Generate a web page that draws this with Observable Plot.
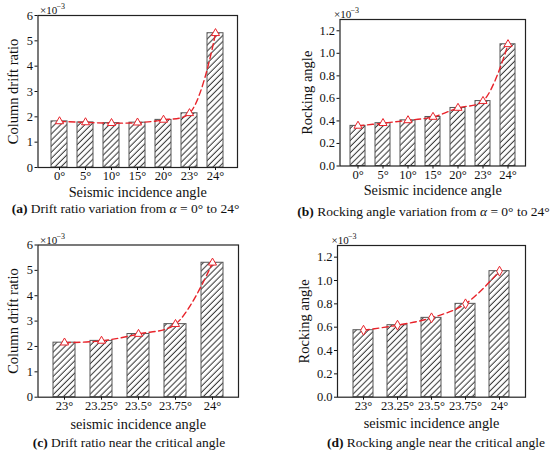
<!DOCTYPE html>
<html>
<head>
<meta charset="utf-8">
<script src="https://cdn.jsdelivr.net/npm/d3@7"></script>
<script src="https://cdn.jsdelivr.net/npm/@observablehq/plot@0.6"></script>
<style>
  html, body { margin: 0; padding: 0; background: #fff; }
  #root { position: relative; width: 550px; height: 452px; overflow: hidden; font-family: "Liberation Serif", "Times New Roman", serif; }
  .panel { position: absolute; width: 275px; height: 226px; }
  .cap { position: absolute; width: 320px; text-align: center; white-space: nowrap; font-size: 13.5px; line-height: 15px; color: #111; }
</style>
</head>
<body>
<div id="root"></div>
<script>
// ---- data ----
const anglesAB = ["0°", "5°", "10°", "15°", "20°", "23°", "24°"];
const driftAB = [1.82, 1.78, 1.75, 1.77, 1.88, 2.14, 5.30];
const rockAB = [0.356, 0.380, 0.405, 0.435, 0.515, 0.576, 1.08];
const anglesCD = ["23°", "23.25°", "23.5°", "23.75°", "24°"];
const driftCD = [2.15, 2.22, 2.49, 2.88, 5.30];
const rockCD = [0.574, 0.617, 0.680, 0.800, 1.08];
const driftTicks = [0, 1, 2, 3, 4, 5, 6];
const rockTicks = [0, 0.2, 0.4, 0.6, 0.8, 1.0, 1.2];
const captions = [
  "<b>(a)</b> Drift ratio variation from <i>α</i> = 0° to 24°",
  "<b>(b)</b> Rocking angle variation from <i>α</i> = 0° to 24°",
  "<b>(c)</b> Drift ratio near the critical angle",
  "<b>(d)</b> Rocking angle near the critical angle"
];

const SERIF = '"Liberation Serif", "Times New Roman", serif';
const RED = "#e8232a";

function hatchDefs(id) {
  return () => {
    const defs = d3.create("svg:defs");
    const p = defs.append("pattern")
      .attr("id", id)
      .attr("patternUnits", "userSpaceOnUse")
      .attr("width", 4.3).attr("height", 4.3)
      .attr("patternTransform", "rotate(45)");
    p.append("rect").attr("width", 4.3).attr("height", 4.3).attr("fill", "#fff");
    p.append("line").attr("x1", 2).attr("y1", 0).attr("x2", 2).attr("y2", 4.3)
      .attr("stroke", "#1a1a1a").attr("stroke-width", 0.9);
    return defs.node();
  };
}

function panel(o) {
  const data = o.angles.map((a, i) => ({a, v: o.values[i]}));
  return Plot.plot({
    width: 275,
    height: 226,
    marginLeft: o.ml,
    marginRight: o.mr,
    marginTop: o.mt,
    marginBottom: 226 - o.fb,
    style: {fontFamily: SERIF, background: "transparent", color: "#111"},
    x: {domain: o.angles, padding: 0.4},
    y: {domain: o.yDomain},
    marks: [
      hatchDefs(o.id),
      Plot.barY(data, {x: "a", y: "v", fill: `url(#${o.id})`, stroke: "#555", strokeWidth: 1}),
      Plot.line(data, {x: "a", y: "v", curve: "catmull-rom", stroke: RED, strokeWidth: 1.4, strokeDasharray: "6,3.5"}),
      Plot.dot(data, {x: "a", y: "v", symbol: o.symbol, r: 3, stroke: RED, fill: "#fff", strokeWidth: 1}),
      Plot.frame({stroke: "#222", strokeWidth: 1.2}),
      Plot.axisX({tickSize: 3, tickPadding: 1, fontSize: 12.5, label: null}),
      Plot.axisY({ticks: o.yTicks, tickFormat: o.yFormat, tickSize: 3, tickPadding: 2, fontSize: 12.5, label: null}),
      Plot.text([o.xlabel], {text: d => d, frameAnchor: "bottom", lineAnchor: "middle", textAnchor: "middle", dy: o.xdy, fontSize: 14.3}),
      Plot.text([o.ylabel], {text: d => d, frameAnchor: "left", textAnchor: "middle", lineAnchor: "middle", dx: o.ydx, rotate: -90, fontSize: 14.5}),
      Plot.text(["×10"], {text: d => d, frameAnchor: "top-left", lineAnchor: "middle", dx: o.edx, dy: -5, textAnchor: "start", fontSize: 11}),
      Plot.text(["−3"], {text: d => d, frameAnchor: "top-left", lineAnchor: "middle", dx: o.edx + 16.5, dy: -9, textAnchor: "start", fontSize: 8})
    ]
  });
}

const specs = [
  {id: "hA", left: 0, top: 0, angles: anglesAB, values: driftAB, yDomain: [0, 6], yTicks: driftTicks, yFormat: d3.format("d"),
   ylabel: "Column drift ratio", xlabel: "Seismic incidence angle", ml: 37.5, mr: 38, mt: 15, fb: 167, symbol: "triangle",
   xdy: 24.5, ydx: -25, edx: 2},
  {id: "hB", left: 275, top: 0, angles: anglesAB, values: rockAB, yDomain: [0, 1.3], yTicks: rockTicks, yFormat: d3.format(".1f"),
   ylabel: "Rocking angle", xlabel: "Seismic incidence angle", ml: 64.5, mr: 25, mt: 19, fb: 165.5, symbol: "triangle",
   xdy: 24.5, ydx: -33, edx: -6},
  {id: "hC", left: 0, top: 226, angles: anglesCD, values: driftCD, yDomain: [0, 6], yTicks: driftTicks, yFormat: d3.format("d"),
   ylabel: "Column drift ratio", xlabel: "seismic incidence angle", ml: 37.5, mr: 37, mt: 18.5, fb: 170.7, symbol: "triangle",
   xdy: 27, ydx: -25, edx: 2},
  {id: "hD", left: 275, top: 226, angles: anglesCD, values: rockCD, yDomain: [0, 1.3], yTicks: rockTicks, yFormat: d3.format(".1f"),
   ylabel: "Rocking angle", xlabel: "seismic incidence angle", ml: 62, mr: 25, mt: 19, fb: 170.7, symbol: "diamond",
   xdy: 26.5, ydx: -33, edx: -6}
];
const capPos = [[125.5, 208.5], [423.5, 211], [129, 442.5], [436, 442.5]];

const root = document.getElementById("root");
specs.forEach((s, i) => {
  const div = document.createElement("div");
  div.className = "panel";
  div.style.left = s.left + "px";
  div.style.top = s.top + "px";
  div.appendChild(panel(s));
  root.appendChild(div);
});
captions.forEach((c, i) => {
  const d = document.createElement("div");
  d.className = "cap";
  d.innerHTML = c;
  d.style.left = (capPos[i][0] - 160) + "px";
  d.style.top = (capPos[i][1] - 7.5) + "px";
  root.appendChild(d);
});
</script>
</body>
</html>
